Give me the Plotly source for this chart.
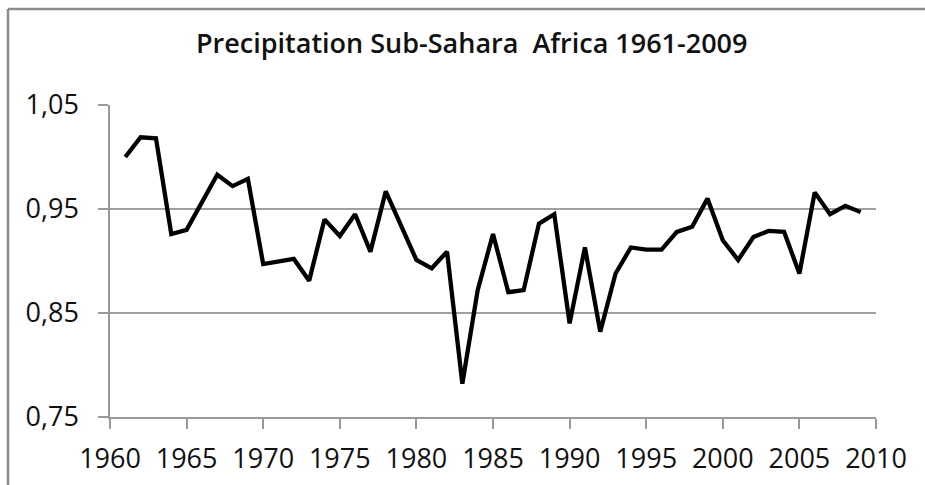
import plotly.graph_objects as go

years = list(range(1961, 2010))
precip = [1.000, 1.019, 1.018, 0.926, 0.930, 0.957, 0.983, 0.972, 0.979, 0.897,
          0.900, 0.902, 0.881, 0.940, 0.924, 0.945, 0.909, 0.967, 0.934, 0.901,
          0.893, 0.909, 0.782, 0.872, 0.926, 0.870, 0.872, 0.936, 0.945, 0.840,
          0.913, 0.832, 0.888, 0.913, 0.911, 0.911, 0.928, 0.933, 0.960, 0.920,
          0.901, 0.923, 0.929, 0.928, 0.888, 0.966, 0.945, 0.953, 0.947]

title_text = "Precipitation Sub-Sahara  Africa 1961-2009"
y_ticks = [0.75, 0.85, 0.95, 1.05]
x_ticks = list(range(1960, 2011, 5))

fig = go.Figure()
fig.add_trace(go.Scatter(x=years, y=precip, mode="lines",
                         line=dict(color="black", width=4.3), showlegend=False))

font_family = "Open Sans"
fig.update_layout(
    width=925, height=485,
    margin=dict(l=110, r=49, t=105, b=68),
    paper_bgcolor="white", plot_bgcolor="white",
    separators=", ",
    title=dict(text=title_text, x=0.51, xref="container",
               xanchor="center", y=0.91, yanchor="middle",
               font=dict(family=font_family, size=27, color="#111111", weight=600)),
    xaxis=dict(range=[1960, 2010], tickvals=x_ticks, showgrid=False,
               showline=True, linecolor="#999999", linewidth=1.5,
               ticks="outside", ticklen=10, tickcolor="#999999", tickwidth=1.5,
               tickfont=dict(family=font_family, size=27, color="#111111"),
               ticklabelstandoff=7, zeroline=False, automargin=False),
    yaxis=dict(range=[0.75, 1.05], tickvals=y_ticks, tickformat=".2f",
               showgrid=True, gridcolor="#a0a0a0", gridwidth=1.5,
               showline=True, linecolor="#999999", linewidth=1.5,
               ticks="outside", ticklen=10, tickcolor="#999999", tickwidth=1.5,
               tickfont=dict(family=font_family, size=27, color="#111111"),
               ticklabelstandoff=14, zeroline=False, automargin=False),
    shapes=[
        dict(type="line", xref="paper", yref="paper",
             x0=(8 - 110) / 766, x1=(8 - 110) / 766, y0=(417 - 9) / 312, y1=-0.3,
             line=dict(color="#8c8c8c", width=2.5)),
        dict(type="line", xref="paper", yref="paper",
             x0=(8 - 110) / 766, x1=1.07, y0=(417 - 9) / 312, y1=(417 - 9) / 312,
             line=dict(color="#8c8c8c", width=2.5)),
    ],
)

fig.write_html("out.html", config={"displayModeBar": False},
               post_script="document.body.style.margin='0';document.body.style.overflow='hidden';")
